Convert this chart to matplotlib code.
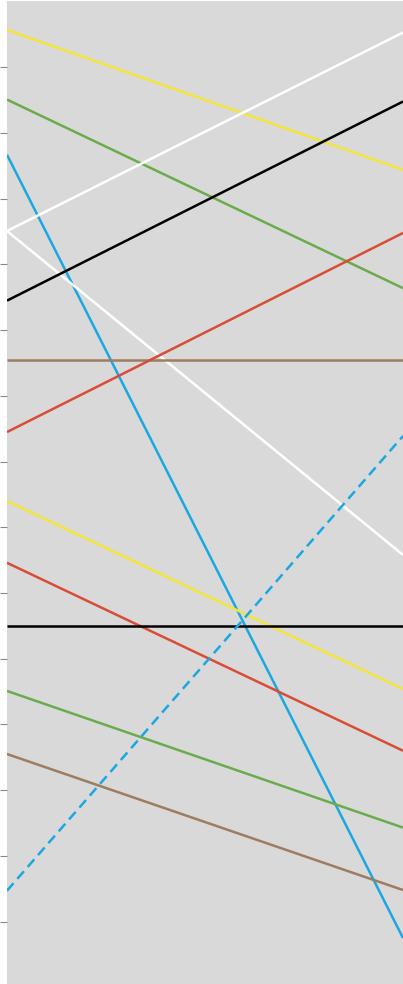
import matplotlib
matplotlib.use("Agg")
import matplotlib.pyplot as plt

x_pos = [0, 1]
series_names = ["yellow_top", "green_top", "blue_solid", "white_rise", "white_fall",
                "black_rise", "brown_flat", "red_rise", "yellow_low", "red_low",
                "black_flat", "green_low", "brown_low", "blue_dashed"]
start_values = [9.07, 8.01, 7.17, 6.01, 6.01, 4.95, 4.05, 2.95, 1.90, 0.96, 0.0, -0.99, -1.95, -4.03]
end_values = [6.94, 5.14, -4.75, 9.03, 1.08, 7.98, 4.05, 5.98, -0.96, -1.90, 0.0, -3.07, -4.02, 2.89]
tick_values = [-4.5, -3.5, -2.5, -1.5, -0.5, 0.5, 1.5, 2.5, 3.5, 4.5, 5.5, 6.5, 7.5, 8.5]

colors = ["#f3e53a", "#6aac4c", "#1ba7e1", "#ffffff", "#ffffff", "#000000", "#9c7d60",
          "#d94c35", "#f3e53a", "#d94c35", "#000000", "#6aac4c", "#9c7d60", "#1ba7e1"]
styles = ["-"] * 13 + ["--"]

fig = plt.figure(figsize=(4.03, 9.84), dpi=100)
ax = fig.add_axes([7 / 403, 0, 396 / 403, 983 / 984])
ax.set_facecolor("#d9d9d9")
for name, s, e, c, ls in zip(series_names, start_values, end_values, colors, styles):
    line, = ax.plot(x_pos, [s, e], color=c, lw=1.8, ls=ls, solid_capstyle="butt")
    if ls == "--":
        line.set_dashes((4, 2.3))
ax.set_xlim(0, 1)
ax.set_ylim(-5.45, 9.51)
ax.set_yticks(tick_values)
ax.set_yticklabels([])
ax.set_xticks([])
ax.tick_params(axis="y", direction="out", length=5, width=0.8, color="#888888")
for sp in ax.spines.values():
    sp.set_visible(False)
fig.savefig("out.png", dpi=100)
